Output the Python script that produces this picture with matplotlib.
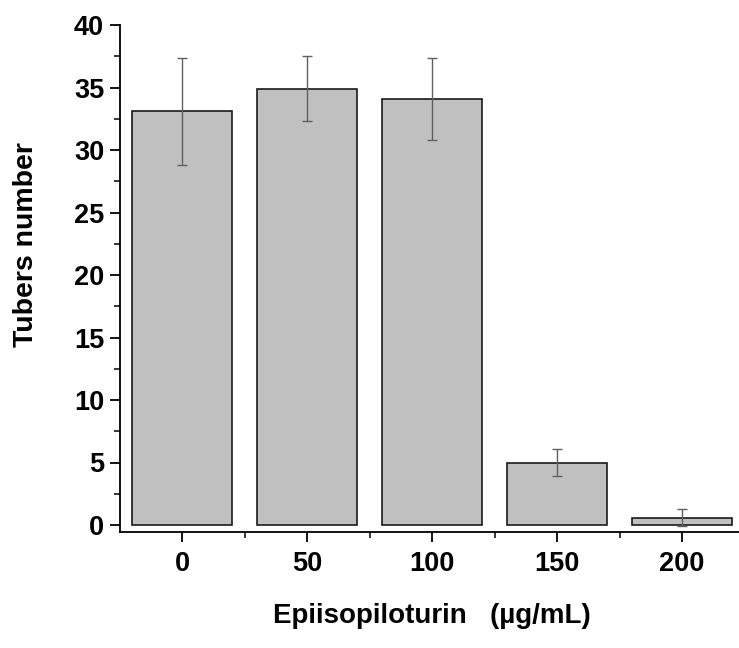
import matplotlib
matplotlib.use("Agg")
import matplotlib.pyplot as plt
from matplotlib.ticker import MultipleLocator, FixedLocator

categories = ["0", "50", "100", "150", "200"]
values = [33.1, 34.9, 34.1, 5.0, 0.6]
errors = [4.3, 2.6, 3.3, 1.1, 0.7]

plt.rcParams['font.family'] = ['Liberation Sans', 'DejaVu Sans']
plt.rcParams['font.weight'] = 'bold'

fig = plt.figure(figsize=(7.39, 6.48), dpi=100)
W, H = 739, 648
x0, x1 = 119.5, 744.5
y0, y1 = 531.5, 25
ax = fig.add_axes([x0 / W, 1 - y0 / H, (x1 - x0) / W, (y0 - y1) / H])

xs = list(range(len(categories)))
ax.bar(xs, values, width=0.8, color='#c0c0c0', edgecolor='#1a1a1a', linewidth=1.2, zorder=2)
ax.errorbar(xs, values, yerr=errors, fmt='none', ecolor='#606060', elinewidth=1.0,
            capsize=3.7, capthick=1.0, zorder=3)

ax.set_xlim(-0.5, 4.5)
ax.set_ylim(-0.52, 40)
ax.spines['top'].set_visible(False)
ax.spines['right'].set_visible(False)
ax.spines['left'].set_linewidth(1.3)
ax.spines['bottom'].set_linewidth(1.3)
ax.spines['left'].set_bounds(-0.52, 40)

ax.set_xticks(xs)
ax.set_xticklabels(categories)
ax.xaxis.set_minor_locator(FixedLocator([0.5, 1.5, 2.5, 3.5]))
ax.set_yticks([0, 5, 10, 15, 20, 25, 30, 35, 40])
ax.yaxis.set_minor_locator(MultipleLocator(2.5))

ax.tick_params(axis='both', which='major', direction='out', length=7, width=1.3)
ax.tick_params(axis='both', which='minor', direction='out', length=4, width=1.1)
ax.tick_params(axis='x', which='major', labelsize=19.5, pad=7)
ax.tick_params(axis='y', which='major', labelsize=19.5, pad=4)
for lab in ax.get_xticklabels() + ax.get_yticklabels():
    lab.set_fontweight('bold')

fig.text(26 / W, 1 - 245 / H, "Tubers number", rotation=90, ha='center', va='center',
         fontsize=20.5, fontweight='bold')
fig.text(432 / W, 1 - 616 / H, "Epiisopiloturin   (µg/mL)", ha='center', va='center',
         fontsize=20, fontweight='bold')

fig.savefig("out.png", dpi=100)
